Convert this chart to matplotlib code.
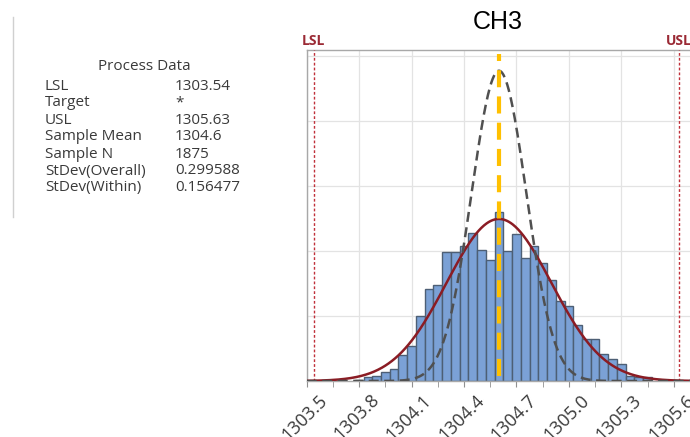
import numpy as np
import matplotlib
matplotlib.use("Agg")
import matplotlib.pyplot as plt
from matplotlib.lines import Line2D
from matplotlib.transforms import ScaledTranslation

# ---- data ----
title = "CH3"
lsl = 1303.54
usl = 1305.63
mean = 1304.6
n = 1875
sd_overall = 0.299588
sd_within = 0.156477
bin_width = 0.05
bin_centers = [1303.80, 1303.85, 1303.90, 1303.95, 1304.00, 1304.05, 1304.10, 1304.15,
               1304.20, 1304.25, 1304.30, 1304.35, 1304.40, 1304.45, 1304.50, 1304.55,
               1304.60,
               1304.65, 1304.70, 1304.75, 1304.80, 1304.85, 1304.90, 1304.95, 1305.00,
               1305.05, 1305.10, 1305.15, 1305.20, 1305.25, 1305.30, 1305.35, 1305.40, 1305.45]
counts = [1, 3, 4, 7, 9, 20, 27, 50, 71, 74, 99, 99, 104, 114, 101, 93,
          130,
          100, 113, 95, 104, 91, 78, 62, 58, 43, 32, 32, 21, 17, 13, 4, 3, 3]
tick_values = [1303.5, 1303.8, 1304.1, 1304.4, 1304.7, 1305.0, 1305.3, 1305.6]
tick_labels = ["1303.5", "1303.8", "1304.1", "1304.4", "1304.7", "1305.0", "1305.3", "1305.6"]
pd_labels = ["LSL", "Target", "USL", "Sample Mean", "Sample N", "StDev(Overall)", "StDev(Within)"]
pd_values = ["1303.54", "*", "1305.63", "1304.6", "1875", "0.299588", "0.156477"]

W, H = 690, 437
fig = plt.figure(figsize=(W / 100, H / 100), dpi=100)

ax_left, ax_right, ax_top, ax_bottom = 306.7, 700, 50, 381
ax = fig.add_axes([ax_left / W, 1 - ax_bottom / H, (ax_right - ax_left) / W, (ax_bottom - ax_top) / H])
x0 = 1303.5
px_per_unit = 178.5
ax.set_xlim(x0, x0 + (ax_right - ax_left) / px_per_unit)
ax.set_ylim(0, 255)

ax.set_yticks([50, 100, 150, 200, 250])
ax.tick_params(axis="y", left=False, labelleft=False)
ax.grid(True, color="#e3e3e3", linewidth=0.9)
ax.set_axisbelow(True)

ax.set_xticks(tick_values)
ax.set_xticks([v + 0.15 for v in tick_values], minor=True)
ax.tick_params(axis="x", which="both", length=4, color="#909090", labelbottom=False)
ax.xaxis.grid(True, which="major")

lab_trans = ax.get_xaxis_transform() + ScaledTranslation(11 / 100, -10 / 100, fig.dpi_scale_trans)
for v, t in zip(tick_values, tick_labels):
    ax.text(v, 0, t, transform=lab_trans, rotation=45, ha="right", va="top",
            rotation_mode="anchor", fontsize=13, color="#3a3a3a", family="Open Sans",
            clip_on=False)

for s in ["left", "top", "bottom", "right"]:
    ax.spines[s].set_color("#a8a8a8")
    ax.spines[s].set_linewidth(1.0)

ax.bar(bin_centers, counts, width=bin_width, color="#7ba1d6", edgecolor="#4d5f75", linewidth=1.0, zorder=2)

xs = np.linspace(x0, x0 + 2.3, 600)
scale = n * bin_width
overall = scale * np.exp(-0.5 * ((xs - mean) / sd_overall) ** 2) / (sd_overall * np.sqrt(2 * np.pi))
within = scale * np.exp(-0.5 * ((xs - mean) / sd_within) ** 2) / (sd_within * np.sqrt(2 * np.pi))
ax.plot(xs, overall, color="#8b1c24", linewidth=1.8, zorder=4)
ax.plot(xs, within, color="#505050", linewidth=1.8, linestyle=(0, (4, 2.2)), zorder=4)

for v, lab in [(lsl, "LSL"), (usl, "USL")]:
    ax.axvline(v, color="#c0303a", linewidth=1.0, linestyle=(0, (2, 1.5)), zorder=3)
    ax.text(v, 256.5, lab, ha="center", va="bottom", fontsize=10, color="#9b2a35",
            family="Open Sans", fontweight="bold", clip_on=False)

ax.plot([mean, mean], [4, 252], color="#ffc000", linewidth=3, linestyle=(0, (4.1, 2.2)),
        zorder=5, solid_capstyle="butt")

fig.text(498 / W, 1 - 22 / H, title, ha="center", va="center", fontsize=18,
         family="Liberation Sans", color="black")

# Process data panel
fig.add_artist(Line2D([13 / W, 13 / W], [1 - 17 / H, 1 - 217 / H], color="#d0d0d0", linewidth=1.0))
fig.text(144 / W, 1 - 67 / H, "Process Data", ha="center", va="center", fontsize=11,
         family="Open Sans", color="#3a3a3a")
for i, (lab, val) in enumerate(zip(pd_labels, pd_values)):
    y = 1 - (86 + i * 17) / H
    fig.text(45 / W, y, lab, ha="left", va="center", fontsize=11, family="Open Sans", color="#3a3a3a")
    fig.text(175 / W, y, val, ha="left", va="center", fontsize=11, family="Open Sans", color="#3a3a3a")

fig.savefig("out.png", dpi=100)
